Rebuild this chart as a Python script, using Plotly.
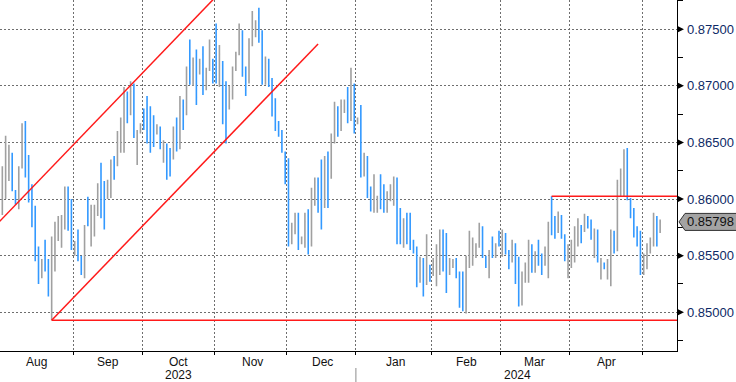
import pandas as pd
import plotly.graph_objects as go

# ---------------- data (daily OHLC, one row per weekday) ----------------
FIRST_DAY = "2023-08-01"
LAST_DAY = "2024-05-08"

OPEN = [
    # Aug
    .8558, .8592, .8605, .8625, .8635, .8606, .8598, .8630, .8662, .8630, .8605, .8585,
    .8552, .8533, .8550, .8540, .8520, .8545, .8570, .8570, .8580, .8608, .8595,
    # Sep
    .8551, .8568, .8548, .8535, .8598, .8565, .8575, .8590, .8625, .8605, .8602, .8605,
    .8635, .8632, .8645, .8648, .8690, .8678, .8698, .8640, .8660,
    # Oct
    .8678, .8680, .8660, .8668, .8658, .8662, .8636, .8645, .8638, .8638, .8665, .8648,
    .8682, .8676, .8722, .8706, .8725, .8712, .8728, .8700, .8715, .8720,
    # Nov
    .8738, .8703, .8718, .8695, .8682, .8692, .8715, .8728, .8745, .8714, .8705, .8738,
    .8745, .8760, .8745, .8705, .8720, .8705, .8680, .8665, .8658, .8640,
    # Dec
    .8615, .8562, .8572, .8585, .8561, .8562, .8585, .8560, .8597, .8612, .8615, .8595,
    .8635, .8620, .8655, .8678, .8665, .8678, .8690, .8675, .8700,
    # Jan
    .8667, .8670, .8622, .8635, .8608, .8592, .8592, .8612, .8605, .8592, .8600, .8598,
    .8612, .8585, .8562, .8582, .8570, .8562, .8555, .8530, .8545, .8526, .8540,
    # Feb
    .8535, .8528, .8540, .8568, .8545, .8535, .8541, .8545, .8533, .8530, .8502, .8545,
    .8548, .8550, .8560, .8572, .8548, .8535, .8562, .8550, .8568,
    # Mar
    .8555, .8566, .8552, .8546, .8558, .8545, .8510, .8530, .8535, .8556, .8540, .8560,
    .8548, .8542, .8535, .8580, .8578, .8572, .8583, .8565, .8545,
    # Apr
    .8542, .8548, .8565, .8575, .8573, .8582, .8578, .8552, .8570, .8532, .8543, .8532,
    .8530, .8568, .8558, .8608, .8608, .8638, .8598, .8590, .8572, .8570,
    # May
    .8535, .8542, .8555, .8562, .8582, .8572,
]

HIGH = [
    # Aug
    .8607, .8629, .8656, .8648, .8641, .8608, .8629, .8667, .8669, .8639, .8613, .8594,
    .8558, .8547, .8564, .8547, .8567, .8580, .8585, .8586, .8611, .8611, .8600,
    # Sep
    .8563, .8573, .8550, .8577, .8602, .8595, .8595, .8614, .8632, .8616, .8617, .8635,
    .8638, .8660, .8672, .8699, .8695, .8704, .8702, .8661, .8667,
    # Oct
    .8680, .8691, .8682, .8674, .8666, .8664, .8652, .8649, .8645, .8664, .8672, .8691,
    .8688, .8717, .8741, .8725, .8732, .8724, .8735, .8716, .8741, .8724,
    # Nov
    .8755, .8736, .8722, .8704, .8700, .8717, .8730, .8755, .8749, .8717, .8742, .8766,
    .8758, .8769, .8749, .8726, .8724, .8707, .8689, .8669, .8661, .8642,
    # Dec
    .8636, .8579, .8588, .8588, .8567, .8588, .8591, .8610, .8619, .8619, .8635, .8638,
    .8642, .8658, .8686, .8682, .8688, .8688, .8699, .8716, .8702,
    # Jan
    .8672, .8683, .8641, .8638, .8611, .8622, .8603, .8622, .8613, .8607, .8613, .8620,
    .8619, .8592, .8583, .8588, .8588, .8564, .8558, .8549, .8548, .8569, .8542,
    # Feb
    .8548, .8560, .8573, .8573, .8570, .8548, .8547, .8548, .8536, .8536, .8550, .8572,
    .8566, .8561, .8579, .8576, .8550, .8555, .8567, .8561, .8572,
    # Mar
    .8573, .8570, .8555, .8564, .8561, .8549, .8536, .8544, .8564, .8560, .8554, .8564,
    .8552, .8558, .8580, .86024, .8585, .8589, .8586, .8569, .8560,
    # Apr
    .8564, .8576, .8583, .8577, .8587, .8585, .8582, .8574, .8573, .8548, .8544, .8547,
    .8573, .8572, .8617, .8627, .8644, .8645, .8601, .8592, .8576, .8572,
    # May
    .8552, .8561, .8566, .8588, .8585, .8582,
]

LOW = [
    # Aug
    .8551, .8586, .8600, .8616, .8607, .8595, .8591, .8627, .8619, .8597, .8575, .8545,
    .8525, .8530, .8536, .8514, .8493, .8536, .8563, .8557, .8573, .8572, .8555,
    # Sep
    .8550, .8545, .8533, .8530, .8576, .8558, .8567, .8585, .8583, .8573, .8600, .8601,
    .8617, .8629, .8641, .8641, .8667, .8674, .8654, .8630, .8658,
    # Oct
    .8661, .8649, .8641, .8646, .8657, .8644, .8632, .8617, .8620, .8635, .8642, .8644,
    .8661, .8674, .8701, .8700, .8683, .8710, .8692, .8696, .8713, .8702,
    # Nov
    .8702, .8699, .8666, .8649, .8679, .8688, .8713, .8727, .8708, .8691, .8702, .8735,
    .8743, .8738, .8701, .8701, .8699, .8673, .8660, .8655, .8641, .8613,
    # Dec
    .8558, .8560, .8569, .8555, .8560, .8557, .8551, .8558, .8594, .8588, .8573, .8592,
    .8592, .8618, .8649, .8655, .8660, .8676, .8667, .8669, .8658,
    # Jan
    .8666, .8619, .8620, .8601, .8589, .8588, .8588, .8591, .8588, .8588, .8598, .8594,
    .8560, .8560, .8557, .8560, .8555, .8552, .8522, .8526, .8514, .8524, .8527,
    # Feb
    .8532, .8523, .8533, .8536, .8517, .8533, .8539, .8530, .8504, .8501, .8499, .8539,
    .8541, .8548, .8557, .8548, .8539, .8530, .8548, .8548, .8558,
    # Mar
    .8549, .8551, .8538, .8544, .8525, .8505, .8506, .8526, .8526, .8535, .8535, .8541,
    .8533, .8541, .8530, .8568, .8565, .8570, .8565, .8545, .8530,
    # Apr
    .8539, .8544, .8558, .8561, .8571, .8574, .8564, .8548, .8544, .8529, .8538, .8529,
    .8523, .8552, .8554, .8602, .8602, .8599, .8583, .8566, .8558, .8533,
    # May
    .8533, .8538, .8552, .8558, .8558, .8570,
]

CLOSE = [
    # Aug
    .8598, .8620, .8640, .8640, .8612, .8598, .8622, .8660, .8625, .8600, .8580, .8550,
    .8530, .8542, .8538, .8520, .8560, .8575, .8580, .8582, .8605, .8580, .8560,
    # Sep
    .8560, .8550, .8537, .8572, .8580, .8590, .8592, .8610, .8590, .8580, .8612, .8630,
    .8620, .8655, .8668, .8690, .8672, .8695, .8660, .8655, .8665,
    # Oct
    .8665, .8655, .8650, .8650, .8663, .8648, .8648, .8625, .8624, .8655, .8645, .8680,
    .8668, .8710, .8708, .8718, .8690, .8720, .8705, .8712, .8732, .8706,
    # Nov
    .8706, .8728, .8670, .8660, .8695, .8714, .8727, .8750, .8712, .8696, .8738, .8760,
    .8755, .8742, .8705, .8720, .8702, .8678, .8663, .8657, .8644, .8616,
    # Dec
    .8562, .8575, .8585, .8560, .8566, .8580, .8555, .8600, .8615, .8592, .8585, .8630,
    .8600, .8652, .8680, .8665, .8682, .8686, .8678, .8705, .8665,
    # Jan
    .8671, .8625, .8638, .8605, .8592, .8612, .8600, .8595, .8592, .8603, .8610, .8615,
    .8565, .8565, .8578, .8565, .8562, .8555, .8530, .8545, .8520, .8560, .8530,
    # Feb
    .8545, .8552, .8568, .8540, .8525, .8545, .8544, .8535, .8510, .8505, .8545, .8565,
    .8560, .8558, .8575, .8552, .8542, .8552, .8552, .8558, .8562,
    # Mar
    .8568, .8556, .8540, .8560, .8530, .8510, .8530, .8540, .8560, .8540, .8550, .8545,
    .8538, .8553, .8575, .8572, .8568, .8585, .8568, .8550, .8555,
    # Apr
    .8560, .8570, .8580, .8565, .8583, .8576, .8566, .8570, .8548, .8545, .8540, .8544,
    .8568, .8556, .8612, .8622, .8640, .8604, .8588, .8570, .8560, .8536,
    # May
    .8548, .8556, .8562, .8584, .8570, .85798,
]

# axis furniture
MONTH_STARTS = ["2023-09-01", "2023-10-02", "2023-11-01", "2023-12-01", "2024-01-01",
                "2024-02-01", "2024-03-01", "2024-04-01", "2024-05-01"]
MONTH_LABELS = ["Aug", "Sep", "Oct", "Nov", "Dec", "Jan", "Feb", "Mar", "Apr"]
MONTH_LABEL_AT = ["2023-08-16 20:00", "2023-09-15 12:00", "2023-10-16 22:00",
                  "2023-11-16 10:00", "2023-12-15 22:00", "2024-01-16 22:00",
                  "2024-02-15 12:00", "2024-03-15 05:00", "2024-04-16 02:00"]
YEAR_LABELS = ["2023", "2024"]
YEAR_LABEL_AT = ["2023-10-16 22:00", "2024-03-08 06:00"]
YEAR_SPLIT = "2024-01-01"
Y_TICKS = [0.850, 0.855, 0.860, 0.865, 0.870, 0.875]
Y_MINOR = [0.8475, 0.8525, 0.8575, 0.8625, 0.8675, 0.8725, 0.8775]
X_RANGE = ["2023-08-01 19:00", "2024-05-15 15:00"]
Y_RANGE = [0.84658, 0.87758]

# drawn trend lines (date, price)
CHANNEL_LOWER = [("2023-08-23 12:00", 0.8493), ("2023-12-14 12:00", 0.8737)]
CHANNEL_UPPER = [("2023-07-31 12:00", 0.85767), ("2023-11-07 12:00", 0.8791)]
SUPPORT = ("2023-08-23 12:00", 0.8493)
RESISTANCE = ("2024-03-22 12:00", 0.86024)
LINE_END = "2024-05-31"

# ---------------- figure ----------------
days = pd.bdate_range(FIRST_DAY, LAST_DAY)
n = len(days)
for name, arr in (("OPEN", OPEN), ("HIGH", HIGH), ("LOW", LOW), ("CLOSE", CLOSE)):
    if len(arr) != n:
        raise ValueError(f"{name} has {len(arr)} values, expected {n}")
x = days + pd.Timedelta(hours=12)

BLUE = "#3399ff"
GRAY = "#a0a0a0"
RED = "#ff1a1a"
GRID = "#6e6e6e"
FONT = "Liberation Sans, Arial, sans-serif"
W, H = 736, 382
ML, MR, MT, MB = 0, 59, 0, 31
PW, PH = W - ML - MR, H - MT - MB

fig = go.Figure(go.Ohlc(
    x=x, open=OPEN, high=HIGH, low=LOW, close=CLOSE,
    increasing=dict(line=dict(color=GRAY, width=1.6)),
    decreasing=dict(line=dict(color=BLUE, width=1.6)),
    tickwidth=0.25, hoverinfo="skip", showlegend=False,
))

shapes = []
red = dict(color=RED, width=1.5)
shapes.append(dict(type="line", xref="x", yref="y", x0=CHANNEL_LOWER[0][0], y0=CHANNEL_LOWER[0][1],
                   x1=CHANNEL_LOWER[1][0], y1=CHANNEL_LOWER[1][1], line=red))
shapes.append(dict(type="line", xref="x", yref="y", x0=CHANNEL_UPPER[0][0], y0=CHANNEL_UPPER[0][1],
                   x1=CHANNEL_UPPER[1][0], y1=CHANNEL_UPPER[1][1], line=red))
shapes.append(dict(type="line", xref="x", yref="y", x0=SUPPORT[0], y0=SUPPORT[1],
                   x1=LINE_END, y1=SUPPORT[1], line=red))
shapes.append(dict(type="line", xref="x", yref="y", x0=RESISTANCE[0], y0=RESISTANCE[1],
                   x1=LINE_END, y1=RESISTANCE[1], line=red))

# arrow heads at the major y ticks
px_y = (Y_RANGE[1] - Y_RANGE[0]) / PH
px_x = 1.0 / PW
for v in Y_TICKS:
    shapes.append(dict(type="path", xref="paper", yref="y",
                       path=f"M 1,{v + 3.5*px_y} L {1 + 7*px_x},{v} L 1,{v - 3.5*px_y} Z",
                       fillcolor="black", line=dict(color="black", width=0)))

# last-price tag
last = CLOSE[-1]
h = 8.5 * px_y
shapes.append(dict(type="path", xref="paper", yref="y",
                   path=(f"M {1 + 2*px_x},{last} L {1 + 8*px_x},{last + h} L {1 + 62*px_x},{last + h} "
                         f"L {1 + 62*px_x},{last - h} L {1 + 8*px_x},{last - h} Z"),
                   fillcolor="#a3a3a3", line=dict(color="#333333", width=1)))

# year separator below the axis
shapes.append(dict(type="line", xref="x", yref="paper", x0=YEAR_SPLIT, x1=YEAR_SPLIT,
                   y0=-17/PH, y1=-31/PH, line=dict(color="#8c8c8c", width=1)))

annotations = []
for lab, at in zip(MONTH_LABELS, MONTH_LABEL_AT):
    annotations.append(dict(x=at, y=-11/PH, xref="x", yref="paper", text=lab, showarrow=False,
                            xanchor="center", yanchor="middle",
                            font=dict(family=FONT, size=12, color="#111111")))
for lab, at in zip(YEAR_LABELS, YEAR_LABEL_AT):
    annotations.append(dict(x=at, y=-24/PH, xref="x", yref="paper", text=lab, showarrow=False,
                            xanchor="center", yanchor="middle",
                            font=dict(family=FONT, size=12, color="#111111")))
for v in Y_TICKS:
    annotations.append(dict(x=1 + 8*px_x, y=v, xref="paper", yref="y", text=f"{v:.5f}",
                            showarrow=False, xanchor="left", yanchor="middle",
                            font=dict(family=FONT, size=13, color="#0e2a66")))
annotations.append(dict(x=1 + 8*px_x, y=last, xref="paper", yref="y", text=f"{last:.5f}",
                        showarrow=False, xanchor="left", yanchor="middle",
                        font=dict(family=FONT, size=13, color="#111111")))

fig.update_layout(
    width=W, height=H,
    margin=dict(l=ML, r=MR, t=MT, b=MB, pad=0),
    paper_bgcolor="white", plot_bgcolor="white",
    showlegend=False,
    shapes=shapes, annotations=annotations,
    xaxis=dict(
        type="date", range=X_RANGE,
        rangebreaks=[dict(bounds=["sat", "mon"])],
        rangeslider=dict(visible=False),
        tickmode="array", tickvals=MONTH_STARTS, showticklabels=False,
        ticks="outside", ticklen=3, tickcolor="black",
        showgrid=True, gridcolor=GRID, griddash="2px,2px", gridwidth=1,
        showline=True, linecolor="black", linewidth=1, zeroline=False,
        fixedrange=True,
    ),
    yaxis=dict(
        side="right", range=Y_RANGE,
        tickmode="array", tickvals=Y_TICKS, showticklabels=False, ticks="",
        minor=dict(tickmode="array", tickvals=Y_MINOR, ticks="outside", ticklen=5,
                   tickcolor="black", showgrid=False),
        showgrid=True, gridcolor=GRID, griddash="2px,2px", gridwidth=1,
        showline=True, linecolor="black", linewidth=1, zeroline=False,
        fixedrange=True,
    ),
)

fig.write_html(
    "out.html",
    config={"displayModeBar": False, "staticPlot": True},
    post_script="document.body.style.margin='0';document.body.style.overflow='hidden';",
)
